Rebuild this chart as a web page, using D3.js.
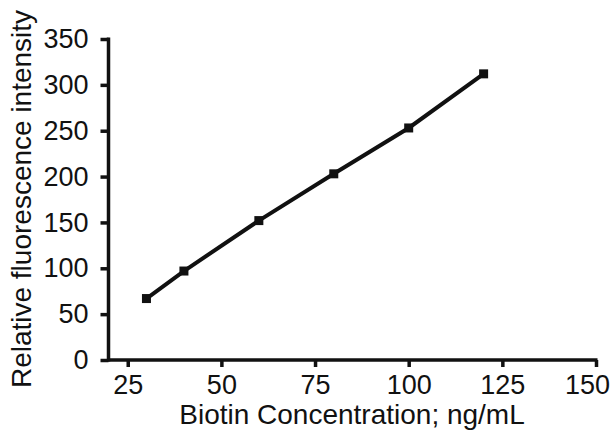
<!DOCTYPE html>
<html>
<head>
<meta charset="utf-8">
<script src="https://cdn.jsdelivr.net/npm/d3@7"></script>
<style>
  body { margin: 0; background: #fff; }
  svg text { font-family: "Liberation Sans", Arial, sans-serif; fill: #111; }
</style>
</head>
<body>
<div id="chart"></div>
<script>
const concentrations = [30, 40, 60, 80, 100, 120];
const intensities = [67, 97, 152, 203, 253, 312];
const xTicks = [25, 50, 75, 100, 125, 150];
const yTicks = [0, 50, 100, 150, 200, 250, 300, 350];

const W = 616, H = 436;
const margin = { top: 39, right: 20, bottom: 76, left: 108.5 };

const svg = d3.select("#chart")
    .append("svg")
    .attr("width", W)
    .attr("height", H);

const x = d3.scaleLinear()
    .domain([20, 150])
    .range([margin.left + 0.5, 596]);

const y = d3.scaleLinear()
    .domain([0, 350])
    .range([360, margin.top]);

const data = concentrations.map((c, i) => ({ c: c, v: intensities[i] }));

// x axis
const gx = svg.append("g")
    .attr("transform", `translate(0,${y(0)})`)
    .call(d3.axisBottom(x).tickValues(xTicks).tickSize(7).tickPadding(8).tickSizeOuter(0));
gx.select(".domain").attr("stroke", "#111").attr("stroke-width", 3.5)
    .attr("d", `M${margin.left - 1.5},0H${x(150) + 1.5}`);
gx.selectAll(".tick line").attr("stroke", "#111").attr("stroke-width", 3.5);
gx.selectAll("text").style("font-size", "27px").attr("fill", "#111");
// last label sits a little left so it stays inside the frame
gx.selectAll(".tick text").filter(d => d === 150).attr("dx", -9);

// y axis
const gy = svg.append("g")
    .attr("transform", `translate(${margin.left},0)`)
    .call(d3.axisLeft(y).tickValues(yTicks).tickSize(8).tickPadding(12).tickSizeOuter(0));
gy.select(".domain").attr("stroke", "#111").attr("stroke-width", 3.5)
    .attr("d", `M0,${y(350) - 1.5}V${y(0) + 1.5}`);
gy.selectAll(".tick line").attr("stroke", "#111").attr("stroke-width", 3.5);
gy.selectAll("text").style("font-size", "27px").attr("fill", "#111");

// axis titles
svg.append("text")
    .attr("x", 352)
    .attr("y", 424)
    .attr("text-anchor", "middle")
    .style("font-size", "28px")
    .text("Biotin Concentration; ng/mL");

svg.append("text")
    .attr("transform", "rotate(-90)")
    .attr("x", -199)
    .attr("y", 31)
    .attr("text-anchor", "middle")
    .style("font-size", "28px")
    .text("Relative fluorescence intensity");

// line
const line = d3.line()
    .x(d => x(d.c))
    .y(d => y(d.v));

svg.append("path")
    .datum(data)
    .attr("fill", "none")
    .attr("stroke", "#111")
    .attr("stroke-width", 4)
    .attr("d", line);

// markers
svg.selectAll(".pt")
    .data(data)
    .join("rect")
    .attr("class", "pt")
    .attr("x", d => x(d.c) - 4.5)
    .attr("y", d => y(d.v) - 4.5)
    .attr("width", 9)
    .attr("height", 9)
    .attr("fill", "#111");
</script>
</body>
</html>
